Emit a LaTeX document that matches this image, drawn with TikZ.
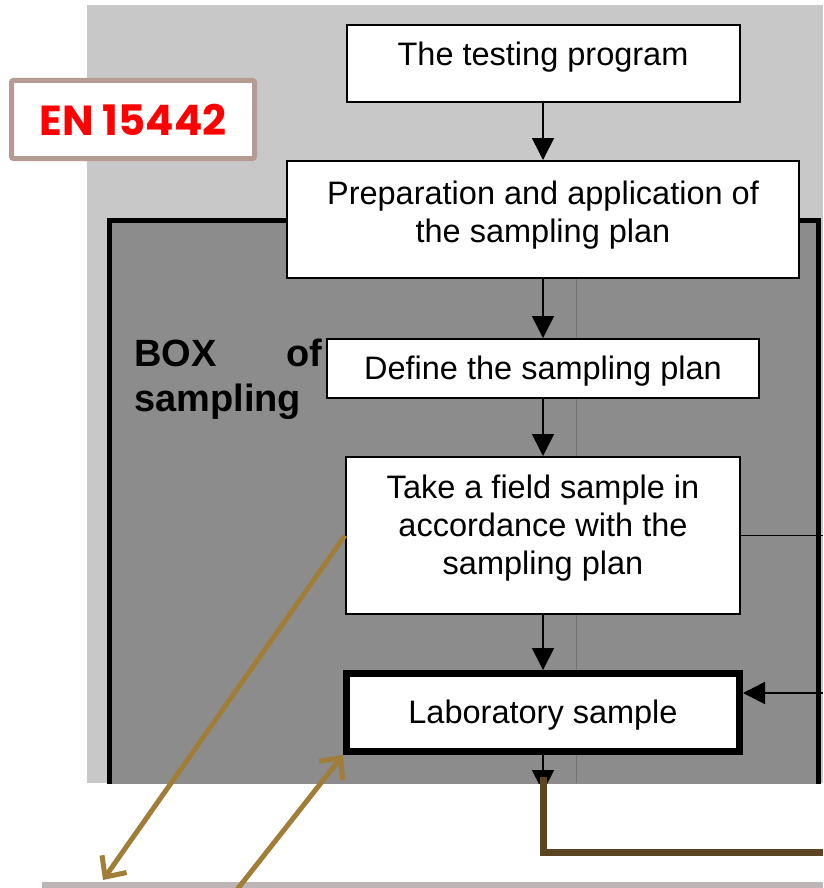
\documentclass[tikz,border=0pt]{standalone}
\usepackage{fontspec}
\setmainfont{Liberation Sans}
\newfontfamily\tagfont{Poppins}
\usepackage{tikz}
\usetikzlibrary{arrows.meta}
\definecolor{ScanLight}{RGB}{200,200,200}
\definecolor{ScanDark}{RGB}{140,140,140}
\definecolor{TagFrame}{RGB}{180,155,148}
\definecolor{TagRed}{RGB}{255,0,0}
\definecolor{NoteGold}{RGB}{161,126,56}
\definecolor{Umber}{RGB}{91,69,34}
\definecolor{BarGray}{RGB}{190,182,182}
% invisible struts to move the text up or down inside a box
\newcommand{\deepstrut}[1]{\rule[-#1]{0pt}{#1}}
\newcommand{\tallstrut}[1]{\rule{0pt}{#1}}

\begin{document}
\begin{tikzpicture}[
    x=1pt, y=-1pt,
    stage/.style={rectangle, draw=black, line width=2pt, fill=white, align=center,
        font=\fontsize{32.5}{38}\selectfont, inner sep=0pt},
    arr/.style={-{Triangle[length=22pt, width=22pt]}, line width=1.6pt},
    link/.style={line width=1.6pt},
    note/.style={NoteGold, line width=5pt, -{Straight Barb[length=16pt, width=30pt]}},
    trail/.style={Umber, line width=7pt},
]
\useasboundingbox (0,0) rectangle (823,888);

% scanned flow chart
\begin{scope}
\clip (87,5) rectangle (823,783);
\fill[ScanLight] (87,5) rectangle (823,783);
\draw[line width=5pt, fill=ScanDark] (109,220.5) rectangle (818.5,820);
\draw[black!55, line width=0.8pt] (576,278) -- (576,783);

\node[font=\fontsize{38}{45}\selectfont\bfseries, align=left, anchor=west, inner sep=0pt]
    (boxtitle) at (134,379) {\makebox[188pt]{BOX\hfill of}\\sampling};

\node[stage, minimum width=393pt, minimum height=77pt] (testing) at (543,63.5)
    {The testing program\deepstrut{20pt}};
\node[stage, minimum width=512pt, minimum height=117pt] (prep) at (543,219.5)
    {Preparation and application of\\the sampling plan\deepstrut{15pt}};
\node[stage, minimum width=432pt, minimum height=59pt] (define) at (543,368.5)
    {\tallstrut{28pt}Define the sampling plan};
\node[stage, minimum width=394pt, minimum height=157pt] (field) at (543,535.5)
    {Take a field sample in\\accordance with the\\sampling plan\deepstrut{21pt}};
\node[stage, line width=7pt, minimum width=393pt, minimum height=78pt] (lab) at (543,712.5)
    {\tallstrut{29pt}Laboratory sample};

\coordinate (cut) at (543,792);
\coordinate (rimA) at (823,535.5);
\coordinate (rimB) at (823,693);

\draw[arr] (testing.south) -- (prep.north);
\draw[arr] (prep.south) -- (define.north);
\draw[arr] (define.south) -- (field.north);
\draw[arr] (field.south) -- (lab.north);
\draw[arr] (lab.south) -- (cut);
\draw[link] (field.east) -- (rimA);
\draw[arr] (rimB) -- (lab.east |- rimB);
\end{scope}

% tag
\node[draw=TagFrame, line width=5pt, fill=white, rounded corners=2pt,
    minimum width=243pt, minimum height=78pt, text=TagRed,
    font=\tagfont\bfseries\fontsize{42}{50}\selectfont] (tag) at (133,119.5) {EN 15442};

% overlay lines
\coordinate (tail) at (543,777);
\coordinate (edge) at (823,852);
\coordinate (pinA) at (103,880);
\coordinate (pinB) at (232,896);

\fill[BarGray] (42,882) rectangle (823,900);
\draw[trail] (tail) |- (edge);
\draw[note] (field.west) -- (pinA);
\draw[note] (pinB) -- (lab.south west);
\end{tikzpicture}
\end{document}
